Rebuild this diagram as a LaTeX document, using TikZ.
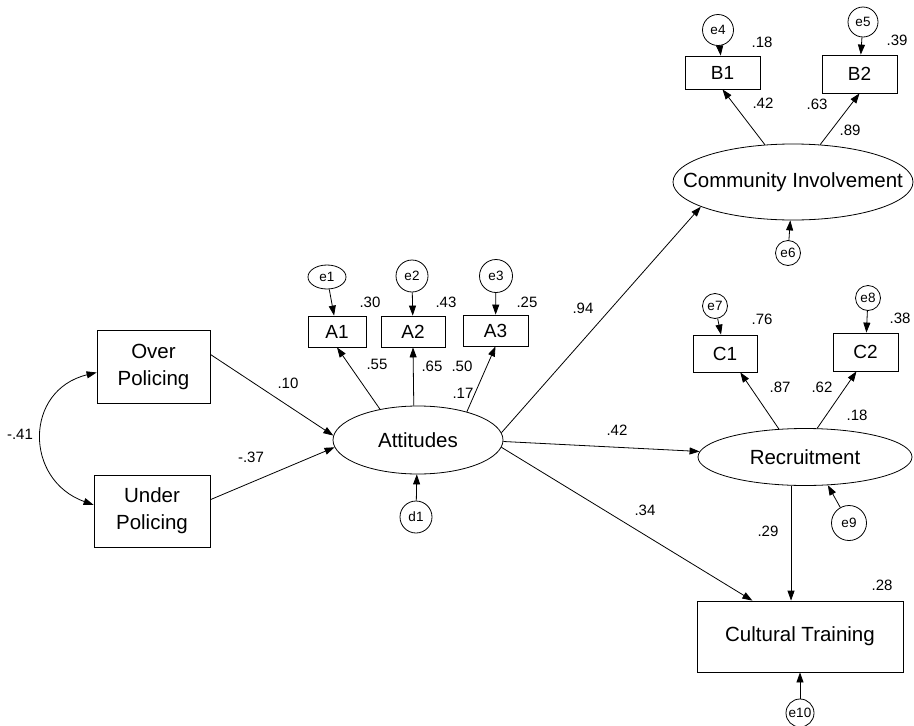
\documentclass[tikz,border=0pt]{standalone}
\usepackage{fontspec}
\setmainfont{Liberation Sans}
\usetikzlibrary{shapes.geometric,arrows.meta}
\tikzset{
  lat/.style={ellipse, draw, line width=0.8pt, inner sep=0pt, font=\fontsize{20.5}{24}\selectfont},
  obs/.style={rectangle, draw, line width=0.8pt, inner sep=0pt, align=center, font=\fontsize{20.5}{27}\selectfont},
  ind/.style={rectangle, draw, line width=0.8pt, inner sep=0pt, font=\fontsize{19}{22}\selectfont},
  err/.style={circle, draw, line width=0.8pt, inner sep=0pt, font=\fontsize{13.5}{15}\selectfont},
  lbl/.style={inner sep=0pt, font=\fontsize{15}{18}\selectfont},
  arr/.style={-{Triangle[length=10pt,width=7pt]}, line width=0.8pt},
  darr/.style={{Triangle[length=10pt,width=7pt]}-{Triangle[length=10pt,width=7pt]}, line width=0.8pt}
}
\begin{document}
\begin{tikzpicture}[x=1pt,y=-1pt]
\useasboundingbox (0,0) rectangle (914,726);
% latent variables
\node[lat, minimum width=170pt, minimum height=68pt] (att) at (418,440) {Attitudes};
\node[lat, inner xsep=-32pt, minimum width=240pt, minimum height=76pt] (ci) at (793,182) {Community Involvement};
\node[lat, minimum width=214pt, minimum height=57pt] (rec) at (805,457) {Recruitment};
% observed
\node[obs, minimum width=113pt, minimum height=73pt] (over) at (153.5,366.5) {Over\\Policing};
\node[obs, minimum width=116pt, minimum height=72pt] (under) at (152,511) {Under\\Policing};
\node[obs, minimum width=206pt, minimum height=71pt] (ct) at (800,636.5) {Cultural Training};
\node[ind, minimum width=58pt, minimum height=31pt] (a1) at (337,331.5) {A1};
\node[ind, minimum width=64pt, minimum height=31pt] (a2) at (413,331.5) {A2};
\node[ind, minimum width=65pt, minimum height=31pt] (a3) at (495.5,330.5) {A3};
\node[ind, minimum width=75pt, minimum height=33pt] (b1) at (722.5,72.5) {B1};
\node[ind, minimum width=75pt, minimum height=38pt] (b2) at (859.5,74) {B2};
\node[ind, minimum width=64pt, minimum height=37pt] (c1) at (725,353.5) {C1};
\node[ind, minimum width=65pt, minimum height=38pt] (c2) at (865.5,352) {C2};
% errors
\node[err, ellipse, inner xsep=-4pt, inner ysep=-4pt, minimum width=38pt, minimum height=24pt] (e1) at (327,277) {e1};
\node[err, minimum size=32pt] (e2) at (412,276) {e2};
\node[err, minimum size=33pt] (e3) at (496,276) {e3};
\node[err, minimum size=31pt] (e4) at (718,30) {e4};
\node[err, minimum size=30pt] (e5) at (863,22) {e5};
\node[err, minimum size=25pt] (e6) at (788,253) {e6};
\node[err, minimum size=25pt] (e7) at (715,306) {e7};
\node[err, minimum size=25pt] (e8) at (868,298) {e8};
\node[err, minimum size=35pt] (e9) at (849,523) {e9};
\node[err, inner sep=-2pt, minimum size=28pt] (e10) at (800,713) {e10};
\node[err, minimum size=32pt] (d1) at (416,517) {d1};
% connectors
\draw[darr] (over.186) .. controls (24,390) and (24,480) .. (under.174);
\draw[arr] (over.12) -- (att.177);
\draw[arr] (under.11) -- (att.185);
\draw[arr] (att.141) -- (a1.south);
\draw[arr] (att.97) -- (a2.south);
\draw[arr] (att.30) -- (a3.south);
\draw[arr] (e1) -- (a1);
\draw[arr] (e2) -- (a2);
\draw[arr] (e3) -- (a3);
\draw[arr] (d1) -- (att.268);
\draw[arr] (att.5) -- (ci.195);
\draw[arr] (att.359) -- (rec.177);
\draw[arr] (att.355) -- (ct.143);
\draw[arr] (ci.127) -- (b1.south);
\draw[arr] (ci.54) -- (b2.south);
\draw[arr] (e4) -- (b1);
\draw[arr] (e5) -- (b2);
\draw[arr] (e6) -- (ci);
\draw[arr] (rec.133) -- (c1.309);
\draw[arr] (rec.67) -- (c2.245);
\draw[arr] (e7) -- (c1);
\draw[arr] (e8) -- (c2);
\draw[arr] (e9) -- (rec.309);
\draw[arr] (rec.244) -- (rec.244 |- ct.north);
\draw[arr] (e10) -- (ct);
% labels
\node[lbl] (l41) at (20,434) {-.41};
\node[lbl] (l10) at (288,383) {.10};
\node[lbl] (l37) at (251,457) {-.37};
\node[lbl] (l30) at (370,302) {.30};
\node[lbl] (l43) at (446,302) {.43};
\node[lbl] (l25) at (527,302) {.25};
\node[lbl] (l55) at (377,364) {.55};
\node[lbl] (l65) at (432,366) {.65};
\node[lbl] (l50) at (462,366) {.50};
\node[lbl] (l17) at (463,393) {.17};
\node[lbl] (l94) at (583,308) {.94};
\node[lbl] (l42b) at (617,430) {.42};
\node[lbl] (l34) at (645,510) {.34};
\node[lbl] (l18a) at (762,42) {.18};
\node[lbl] (l39) at (897,40) {.39};
\node[lbl] (l42) at (763,103) {.42};
\node[lbl] (l63) at (817,104) {.63};
\node[lbl] (l89) at (850,130) {.89};
\node[lbl] (l76) at (762,319) {.76};
\node[lbl] (l38) at (900,318) {.38};
\node[lbl] (l87) at (780,387) {.87};
\node[lbl] (l62) at (822,387) {.62};
\node[lbl] (l18b) at (857,415) {.18};
\node[lbl] (l29) at (768,531) {.29};
\node[lbl] (l28) at (882,585) {.28};
\end{tikzpicture}
\end{document}
